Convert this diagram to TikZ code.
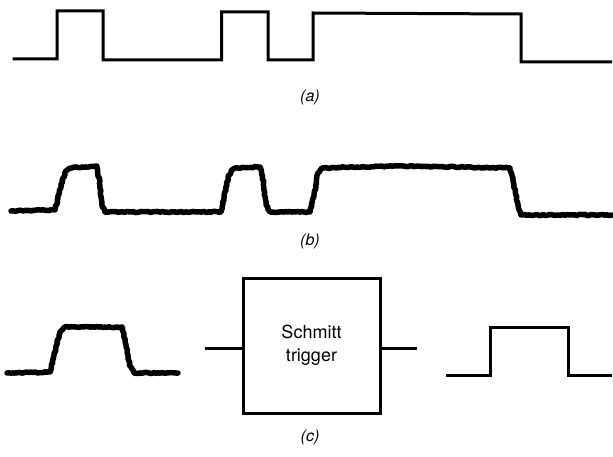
\documentclass[tikz,border=0pt]{standalone}
\usepackage{fontspec}
\setmainfont{TeX Gyre Heros}
\usetikzlibrary{decorations.pathmorphing}
\begin{document}
\begin{tikzpicture}[x=1pt,y=-1pt,
  clean/.style={line width=3pt,line join=miter,line cap=butt},
  noisy/.style={line width=5.5pt,line join=round,line cap=round,
    decorate,decoration={random steps,segment length=2pt,amplitude=0.6pt}},
  lbl/.style={font=\fontsize{16}{19}\selectfont\itshape,inner sep=0pt},
  blockbox/.style={draw,line width=3pt,minimum width=137pt,minimum height=135pt,
    align=center,font=\fontsize{18}{23}\selectfont,inner sep=0pt}]
\useasboundingbox (0,0) rectangle (613,457);
\pgfmathsetseed{7}
% (a) clean waveform
\draw[clean] (12.7,59) -- (57,59) -- (57,11) -- (103,11) -- (103,60) -- (221.5,60)
  -- (221.5,12) -- (268,12) -- (268,60) -- (313,60) -- (313,13) -- (521,14)
  -- (521,62) -- (612,62);
\node[lbl] (la) at (310,97) {(a)};
% (b) noisy waveform
\draw[noisy] (11,211) -- (55,210) -- (58,198) -- (63,178) -- (66,171) -- (70,168) -- (97,166)
  -- (100,185) -- (102,205) -- (105,212) -- (221,212) -- (224,198) -- (228,178) -- (231,171)
  -- (235,168) -- (260,167) -- (263,180) -- (266,205) -- (270,212) -- (310,212)
  -- (314,195) -- (318,173) -- (322,168) -- (400,166) -- (510,168)
  -- (514,185) -- (518,205) -- (521,215) -- (612,215);
\node[lbl] (lb) at (310,241) {(b)};
% (c) input waveform
\draw[noisy] (7,373) -- (50,372) -- (54,355) -- (60,332) -- (65,327) -- (122,327)
  -- (126,345) -- (130,366) -- (134,373) -- (178,373);
% Schmitt trigger block
\node[blockbox] (st) at (311.5,345.5) {Schmitt\\trigger};
\coordinate (inL) at (205,348);
\coordinate (outR) at (417,348);
\draw[clean] (inL) -- (inL -| st.west);
\draw[clean] (outR -| st.east) -- (outR);
% (c) output waveform
\draw[clean] (446,375) -- (490,375) -- (490,327) -- (568,327) -- (568,375) -- (612,375);
\node[lbl] (lc) at (310,437) {(c)};
\end{tikzpicture}
\end{document}
